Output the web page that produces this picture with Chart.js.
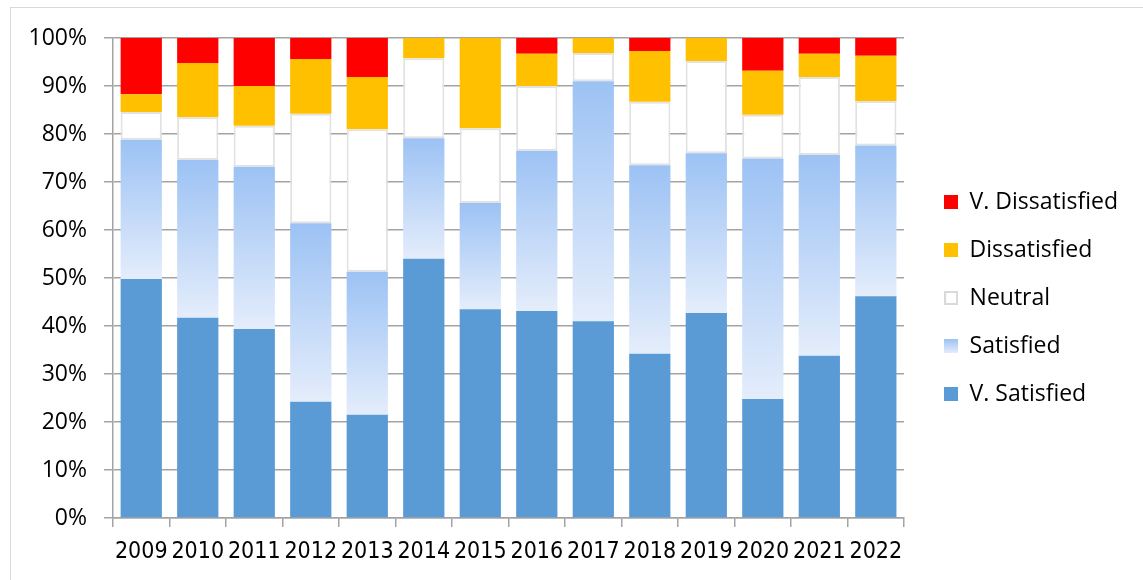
<!DOCTYPE html>
<html>
<head>
<meta charset="utf-8">
<script src="https://cdn.jsdelivr.net/npm/chart.js@4.4.1/dist/chart.umd.min.js"></script>
<style>
  html, body { margin: 0; padding: 0; background: #fff; overflow: hidden; }
  #frame { position: absolute; left: 10px; top: 7px; width: 1200px; height: 640px; border: 1px solid #d9d9d9; }
  #surveyChart { position: absolute; left: 0; top: 0; }
</style>
</head>
<body>
<div id="frame"></div>
<canvas id="surveyChart" width="1143" height="580"></canvas>
<script>
// Survey results per year (percent of responses)
const years = ["2009", "2010", "2011", "2012", "2013", "2014", "2015",
  "2016", "2017", "2018", "2019", "2020", "2021", "2022"];
const vSatisfied = [49.8, 41.7, 39.4, 24.2, 21.5, 54.0, 43.5, 43.1, 41.0, 34.2, 42.7, 24.8, 33.8, 46.2];
const satisfied = [29.0, 32.9, 33.8, 37.2, 29.8, 25.1, 22.1, 33.4, 50.0, 39.3, 33.3, 50.1, 41.8, 31.4];
const neutral = [5.8, 8.9, 8.5, 22.8, 29.7, 16.7, 15.6, 13.5, 5.9, 13.2, 19.2, 9.1, 16.3, 9.3];
const dissatisfied = [3.7, 11.3, 8.3, 11.4, 10.9, 4.2, 18.8, 6.7, 3.1, 10.6, 4.8, 9.2, 4.8, 9.4];
const vDissatisfied = [11.7, 5.2, 10.0, 4.4, 8.1, 0, 0, 3.3, 0, 2.7, 0, 6.8, 3.3, 3.7];

const GRID = "#a3a3a3";
const TICK_FONT = { family: "'Open Sans', 'Liberation Sans', sans-serif", size: 23 };
const YEAR_FONT = { family: "'Liberation Sans Narrow', 'DejaVu Sans Condensed', 'Liberation Sans', sans-serif", size: 23 };

// Satisfied segments fade from mid blue at the top to near white at the bottom
function satisfiedFill(ctx) {
  const chart = ctx.chart;
  if (!chart.chartArea || ctx.type !== "data") return "#b9d3f6";
  const y = chart.scales.y;
  const i = ctx.dataIndex;
  const top = y.getPixelForValue(vSatisfied[i] + satisfied[i]);
  const bottom = y.getPixelForValue(vSatisfied[i]);
  const g = chart.ctx.createLinearGradient(0, top, 0, bottom);
  g.addColorStop(0, "#9cc2f4");
  g.addColorStop(1, "#e4edfb");
  return g;
}

// Small canvases used as legend markers
function swatch(paint) {
  const c = document.createElement("canvas");
  c.width = 14;
  c.height = 14;
  paint(c.getContext("2d"));
  return c;
}
const solid = (color) => swatch((g) => { g.fillStyle = color; g.fillRect(0, 0, 14, 14); });
const legendMarks = [
  solid("#5b9bd5"),
  swatch((g) => {
    const grad = g.createLinearGradient(0, 0, 0, 14);
    grad.addColorStop(0, "#9cc2f4");
    grad.addColorStop(1, "#e4edfb");
    g.fillStyle = grad;
    g.fillRect(0, 0, 14, 14);
  }),
  swatch((g) => {
    g.fillStyle = "#fff";
    g.fillRect(0, 0, 14, 14);
    g.strokeStyle = "#d9d9d9";
    g.lineWidth = 2;
    g.strokeRect(1, 1, 12, 12);
  }),
  solid("#ffc000"),
  solid("#ff0000"),
];

// Nudge the legend block right and up a little from where the layout puts it
const legendNudge = {
  id: "legendNudge",
  afterLayout(chart) {
    const lg = chart.legend;
    if (!lg) return;
    lg.left += 15;
    lg.right += 15;
    lg.bottom -= 22;
    lg.height -= 22;
  },
};

const surveyChart = new Chart(document.getElementById("surveyChart"), {
  type: "bar",
  data: {
    labels: years,
    datasets: [
      { label: "V. Satisfied", data: vSatisfied, backgroundColor: "#5b9bd5", borderWidth: 0 },
      { label: "Satisfied", data: satisfied, backgroundColor: satisfiedFill, borderWidth: 0 },
      {
        label: "Neutral",
        data: neutral,
        backgroundColor: "#ffffff",
        borderColor: "#e2e2e2",
        borderWidth: 2,
        borderSkipped: false,
      },
      { label: "Dissatisfied", data: dissatisfied, backgroundColor: "#ffc000", borderWidth: 0 },
      { label: "V. Dissatisfied", data: vDissatisfied, backgroundColor: "#ff0000", borderWidth: 0 },
    ],
  },
  plugins: [legendNudge],
  options: {
    responsive: false,
    devicePixelRatio: 1,
    animation: false,
    categoryPercentage: 1,
    barPercentage: 0.73,
    layout: { padding: { top: 38, left: 0, right: 30, bottom: 0 } },
    plugins: {
      tooltip: { enabled: false },
      legend: {
        position: "right",
        reverse: true,
        labels: {
          usePointStyle: true,
          boxWidth: 14,
          boxHeight: 14,
          padding: 25,
          color: "#000",
          font: { family: "'Open Sans', 'Liberation Sans', sans-serif", size: 23 },
          generateLabels: (chart) =>
            chart.data.datasets.map((ds, i) => ({
              text: ds.label,
              pointStyle: legendMarks[i],
              fillStyle: "#fff",
              strokeStyle: "#fff",
              lineWidth: 0,
              hidden: false,
              datasetIndex: i,
            })),
        },
      },
    },
    scales: {
      x: {
        stacked: true,
        grid: {
          offset: true,
          drawOnChartArea: false,
          drawTicks: true,
          tickLength: 9,
          color: GRID,
          lineWidth: 1.5,
        },
        border: { color: GRID, width: 1.5 },
        ticks: { color: "#000", font: YEAR_FONT, padding: 11, maxRotation: 0, autoSkip: false },
        afterFit: (scale) => { scale.height = 62; },
      },
      y: {
        stacked: true,
        min: 0,
        max: 100,
        grid: { color: GRID, lineWidth: 1.5, tickLength: 9 },
        border: { color: GRID, width: 1.5 },
        ticks: {
          stepSize: 10,
          color: "#000",
          font: TICK_FONT,
          padding: 17,
          callback: (v) => v + "%",
        },
        afterFit: (scale) => { scale.width = 113; },
      },
    },
  },
});
</script>
</body>
</html>
